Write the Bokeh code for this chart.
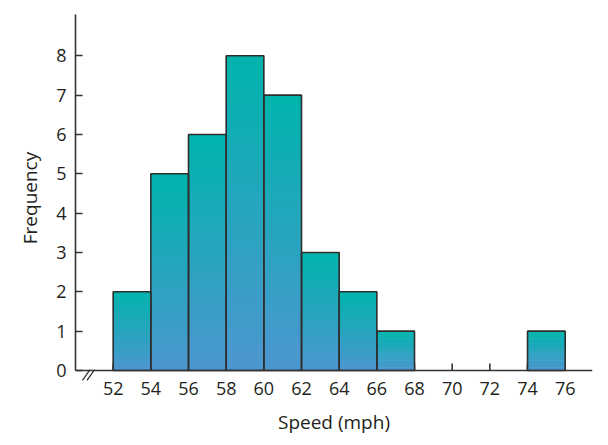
from bokeh.plotting import figure
from bokeh.models import Range1d, FixedTicker, Span
from bokeh.embed import file_html
from bokeh.resources import INLINE

# Data
bin_left = [52, 54, 56, 58, 60, 62, 64, 66, 74]
bin_right = [54, 56, 58, 60, 62, 64, 66, 68, 76]
frequency = [2, 5, 6, 8, 7, 3, 2, 1, 1]
x_ticks = [52, 54, 56, 58, 60, 62, 64, 66, 68, 70, 72, 74, 76]
y_ticks = [0, 1, 2, 3, 4, 5, 6, 7, 8]

TOP = (0x00, 0xB4, 0xAC)
BOT = (0x4D, 0x96, 0xD0)
FONT = "Open Sans"
TXT = "#231f20"
AX = "#333333"
Y_MAX = 9.05
Y_MIN = -0.28  # room below the baseline for the axis-break mark

p = figure(width=600, height=440, output_backend="svg", toolbar_location=None,
           x_range=Range1d(50, 77.45), y_range=Range1d(Y_MIN, Y_MAX),
           min_border_left=75, min_border_right=8, min_border_top=14, min_border_bottom=59)
p.outline_line_color = None
p.grid.visible = False
p.background_fill_color = "white"
p.border_fill_color = "white"

# x-axis baseline and inward ticks at y = 0
p.add_layout(Span(location=0, dimension="width", line_color=AX, line_width=1.6))
p.segment(x0=x_ticks, y0=0, x1=x_ticks, y1=0.18, line_color=AX, line_width=1.6)

# gradient bars: each bar split into thin, slightly overlapping slices
N = 60
lefts, rights, bottoms, tops, colors = [], [], [], [], []
for l, r, f in zip(bin_left, bin_right, frequency):
    for i in range(N):
        b = f * i / N
        t = min(f, f * (i + 1.8) / N)
        frac = (i + 0.5) / N  # 0 bottom -> 1 top
        c = tuple(int(round(BOT[k] + (TOP[k] - BOT[k]) * frac)) for k in range(3))
        lefts.append(l); rights.append(r); bottoms.append(b); tops.append(t)
        colors.append("#%02x%02x%02x" % c)
p.quad(left=lefts, right=rights, bottom=bottoms, top=tops, fill_color=colors,
       line_color=None)
p.quad(left=bin_left, right=bin_right, bottom=0, top=frequency, fill_color=None,
       line_color="#2e2e2e", line_width=1.6)

# axis break: two slashes hanging below the baseline
p.segment(x0=[50.37, 50.61], y0=[-0.25, -0.25], x1=[50.77, 51.01], y1=[0.02, 0.02],
          line_color=AX, line_width=1.3)

for ax in (p.xaxis[0], p.yaxis[0]):
    ax.minor_tick_line_color = None
    ax.major_label_text_font = FONT
    ax.major_label_text_font_size = "18px"
    ax.major_label_text_color = TXT
    ax.axis_label_text_font = FONT
    ax.axis_label_text_font_style = "normal"
    ax.axis_label_text_color = TXT
    ax.axis_label_text_font_size = "19px"

xa = p.xaxis[0]
xa.ticker = FixedTicker(ticks=x_ticks)
xa.axis_line_color = None
xa.major_tick_line_color = None
xa.major_tick_in = 0
xa.major_tick_out = 0
xa.major_label_standoff = 0
xa.axis_label = "Speed (mph)"
xa.axis_label_standoff = 11

ya = p.yaxis[0]
ya.ticker = FixedTicker(ticks=y_ticks)
ya.bounds = (0, Y_MAX)
ya.axis_line_color = AX
ya.axis_line_width = 1.6
ya.major_tick_line_color = AX
ya.major_tick_line_width = 1.6
ya.major_tick_in = 7
ya.major_tick_out = 0
ya.major_label_standoff = 9
ya.axis_label = "Frequency"
ya.axis_label_standoff = 10

open("out.html", "w").write(file_html(p, INLINE))
